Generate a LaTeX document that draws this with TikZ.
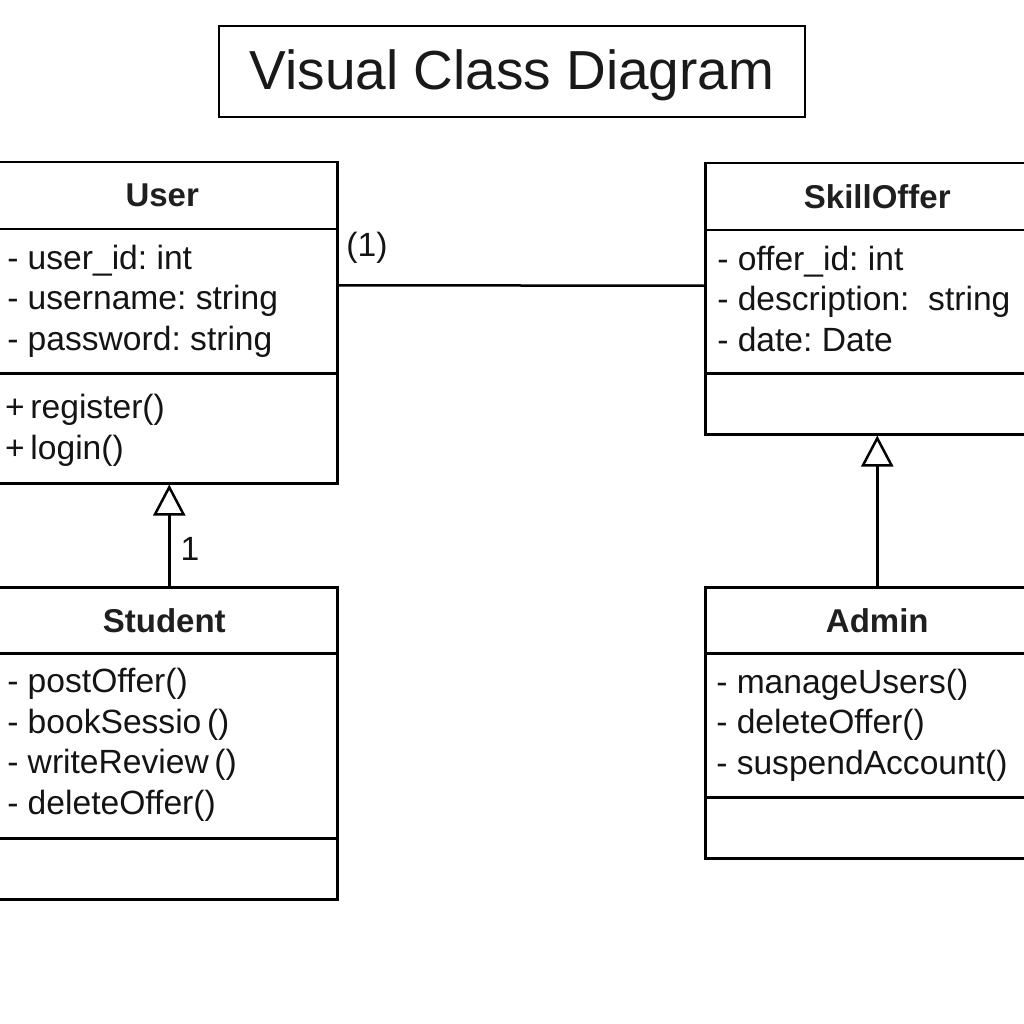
\documentclass[tikz,border=0pt]{standalone}
\usepackage{fontspec}
\setmainfont{Liberation Sans}
\usetikzlibrary{arrows.meta}
\frenchspacing
\begin{document}
\begin{tikzpicture}[x=1pt,y=-1pt,
  line width=2.5pt,
  comp/.style={draw=black,line width=2.5pt,anchor=north west,inner sep=0pt,minimum width=#1},
  cname/.style={font=\fontsize{33}{40}\bfseries\selectfont,text=black!88},
  ctext/.style={font=\fontsize{33.6}{40.5}\selectfont,align=left,anchor=west,inner sep=0pt,text=black!92},
  inh/.style={-{Triangle[open,length=31pt,width=32pt,fill=white,line width=2.5pt]}},
  lbl/.style={font=\fontsize{33.6}{40}\selectfont,inner sep=0pt,text=black!92}]
\useasboundingbox (0,0) rectangle (1024,1024);
\clip (0,0) rectangle (1024,1024);

% title
\node[draw,line width=2.5pt,minimum width=586pt,minimum height=91pt,inner sep=0pt] (title) at (512,71.5) {};
\node[font=\fontsize{55}{60}\selectfont,text=black!90,inner sep=0pt] (titletext) at ([yshift=-4pt]title.center) {Visual Class Diagram};

% User
\node[comp=350pt,minimum height=67pt]  (userH) at (-14,161) {};
\node[comp=350pt,minimum height=144pt] (userA) at (-14,228) {};
\node[comp=350pt,minimum height=110pt] (userM) at (-14,372) {};
\node[cname] (userN) at (userH.center) {User};
\node[ctext] (userAt) at ([xshift=20pt]userA.west) {- user\_id: int\\- username: string\\- password: string};
\node[ctext] (userMt) at ([xshift=18pt,yshift=-2pt]userM.west) {+\,register()\\+\,login()};

% SkillOffer
\node[comp=344pt,minimum height=67pt]  (skH) at (704,162) {};
\node[comp=344pt,minimum height=143pt] (skA) at (704,229) {};
\node[comp=344pt,minimum height=61pt]  (skM) at (704,372) {};
\node[cname] (skN) at (skH.center) {SkillOffer};
\node[ctext] (skAt) at ([xshift=12pt,yshift=3pt]skA.west) {- offer\_id: int\\- description:\ \ string\\- date: Date};

% Student
\node[comp=346pt,minimum height=66pt]  (stH) at (-10,586) {};
\node[comp=346pt,minimum height=185pt] (stA) at (-10,652) {};
\node[comp=346pt,minimum height=61pt]  (stM) at (-10,837) {};
\node[cname] (stN) at (stH.center) {Student};
\node[ctext] (stAt) at ([xshift=16pt,yshift=1pt]stA.west) {- postOffer()\\- bookSessio\,()\\- writeReview\,()\\- deleteOffer()};

% Admin
\node[comp=344pt,minimum height=66pt]  (adH) at (704,586) {};
\node[comp=344pt,minimum height=144pt] (adA) at (704,652) {};
\node[comp=344pt,minimum height=61pt]  (adM) at (704,796) {};
\node[cname] (adN) at (adH.center) {Admin};
\node[ctext] (adAt) at ([xshift=11pt]adA.west) {- manageUsers()\\- deleteOffer()\\- suspendAccount()};

% connectors
\draw ([yshift=16pt]userA.east) -- ([yshift=16pt]skA.west);
\node[lbl] (assoc) at (367,248) {(1)};
\draw[inh] ([xshift=5pt]stH.north) -- ([xshift=7pt]userM.south);
\node[lbl] (one) at (190,549) {1};
\draw[inh] (adH.north) -- (skM.south);
\end{tikzpicture}
\end{document}
